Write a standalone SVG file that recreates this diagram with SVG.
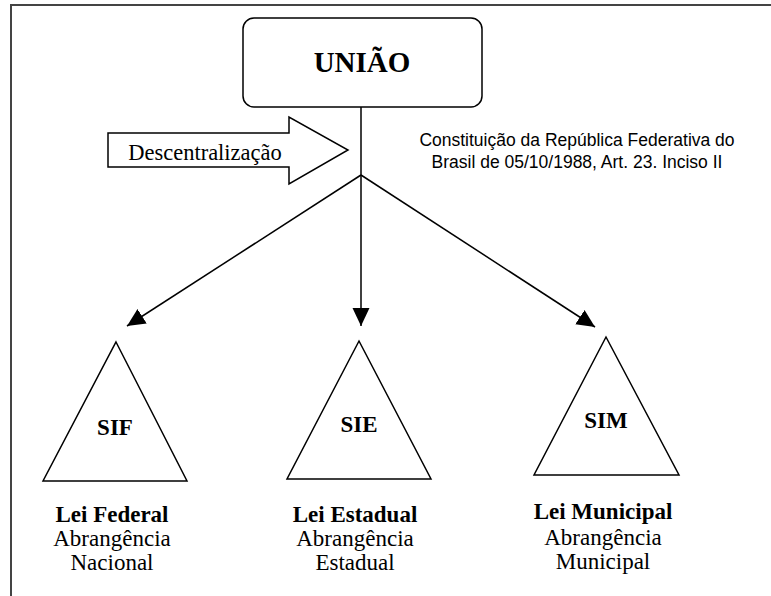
<svg xmlns="http://www.w3.org/2000/svg" width="771" height="596" viewBox="0 0 771 596">
<style>
.ln{stroke:#000;stroke-width:1.5;fill:none}
.shape{stroke:#000;stroke-width:1.5;fill:#fff}
.tb{font-family:"Liberation Serif","Times New Roman",serif;font-weight:bold;fill:#000;text-anchor:middle}
.tr{font-family:"Liberation Serif","Times New Roman",serif;fill:#000;text-anchor:middle}
.ts{font-family:"Liberation Sans",Arial,sans-serif;fill:#000;text-anchor:middle}
</style>
<defs>
<marker id="ah" markerUnits="userSpaceOnUse" markerWidth="19" markerHeight="18" refX="18" refY="8.5" orient="auto">
<path d="M0,0 L18,8.5 L0,17 z" fill="#000"/>
</marker>
</defs>
<rect width="771" height="596" fill="#fff"/>
<g id="frame">
<path d="M11,596 L11,5 L771,5" stroke="#444" stroke-width="2" fill="none"/>
</g>
<g id="connectors">
<line class="ln" x1="361" y1="107" x2="361" y2="326" marker-end="url(#ah)"/>
<line class="ln" x1="361" y1="175" x2="127" y2="326" marker-end="url(#ah)"/>
<line class="ln" x1="361" y1="175" x2="595" y2="327" marker-end="url(#ah)"/>
</g>
<g id="uniao">
<rect class="shape" x="243" y="18" width="239" height="89" rx="11" ry="11"/>
<text class="tb" x="362" y="72" font-size="29">UNIÃO</text>
</g>
<g id="descentralizacao">
<polygon class="shape" points="108,133 289,133 289,117 348,150 289,184 289,167 108,167"/>
<text class="tr" x="205" y="160" font-size="22.5">Descentralização</text>
</g>
<g id="constituicao">
<text class="ts" x="577" y="146" font-size="17.5">Constituição da República Federativa do</text>
<text class="ts" x="577" y="168" font-size="17.5">Brasil de 05/10/1988, Art. 23. Inciso II</text>
</g>
<g id="sif">
<polygon class="shape" points="116,342 187,481 43,481"/>
<text class="tb" x="115" y="435" font-size="23">SIF</text>
<text class="tb" x="112" y="522" font-size="23">Lei Federal</text>
<text class="tr" x="112" y="546" font-size="23">Abrangência</text>
<text class="tr" x="112" y="570" font-size="23">Nacional</text>
</g>
<g id="sie">
<polygon class="shape" points="359,341 431,479 287,479"/>
<text class="tb" x="359" y="432" font-size="23">SIE</text>
<text class="tb" x="355" y="522" font-size="23">Lei Estadual</text>
<text class="tr" x="355" y="546" font-size="23">Abrangência</text>
<text class="tr" x="355" y="570" font-size="23">Estadual</text>
</g>
<g id="sim">
<polygon class="shape" points="606,337 679,475 534,475"/>
<text class="tb" x="606" y="428" font-size="23">SIM</text>
<text class="tb" x="603" y="519" font-size="23">Lei Municipal</text>
<text class="tr" x="603" y="545" font-size="23">Abrangência</text>
<text class="tr" x="603" y="569" font-size="23">Municipal</text>
</g>
</svg>
